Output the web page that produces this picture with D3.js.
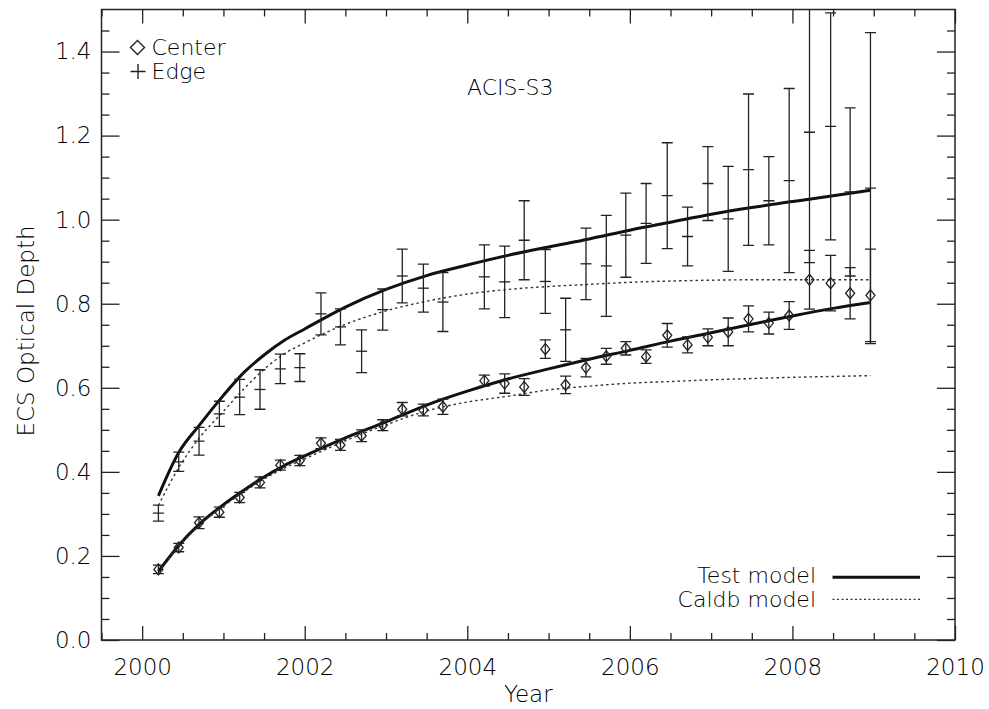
<!DOCTYPE html>
<html>
<head>
<meta charset="utf-8">
<script src="https://cdn.jsdelivr.net/npm/d3@7"></script>
<style>
body { margin: 0; background: #fff; }
text { font-family: "DejaVu Sans", sans-serif; font-weight: 200; fill: #000; }
</style>
</head>
<body>
<div id="chart"></div>
<script>

// observation times (years)
var years = [2000.20, 2000.45, 2000.70, 2000.95, 2001.20, 2001.45, 2001.70, 2001.94,
             2002.20, 2002.44, 2002.70, 2002.96, 2003.20, 2003.46, 2003.70,
             2004.21, 2004.46, 2004.70, 2004.96, 2005.21, 2005.46, 2005.71, 2005.95,
             2006.20, 2006.46, 2006.71, 2006.96, 2007.21, 2007.46, 2007.71, 2007.96,
             2008.21, 2008.47, 2008.71, 2008.96];

// center points (diamonds)
var centerVals = [0.168, 0.220, 0.279, 0.304, 0.339, 0.375, 0.416, 0.427,
                  0.468, 0.464, 0.486, 0.511, 0.549, 0.547, 0.555,
                  0.617, 0.610, 0.602, 0.692, 0.607, 0.648, 0.675, 0.694,
                  0.674, 0.725, 0.702, 0.720, 0.733, 0.764, 0.754, 0.772,
                  0.857, 0.849, 0.825, 0.820];
var centerErr = [0.010, 0.010, 0.014, 0.012, 0.012, 0.013, 0.012, 0.012,
                 0.013, 0.013, 0.014, 0.013, 0.016, 0.014, 0.018,
                 0.013, 0.023, 0.020, 0.022, 0.021, 0.022, 0.019, 0.016,
                 0.016, 0.028, 0.019, 0.020, 0.033, 0.031, 0.026, 0.033,
                 0.070, 0.066, 0.061, 0.110];

// edge points (plus signs)
var edgeVals = [0.302, 0.424, 0.473, 0.538, 0.578, 0.596, 0.645, 0.648,
                0.776, 0.745, 0.687, 0.786, 0.866, 0.837, 0.804,
                0.864, 0.852, 0.951, 0.853, 0.738, 0.895, 0.890, 0.963,
                0.991, 1.057, 0.960, 1.086, 1.002, 1.119, 1.045, 1.093,
                1.208, 1.222, 1.066, 1.075];
var edgeErr = [0.019, 0.023, 0.033, 0.030, 0.042, 0.047, 0.035, 0.033,
               0.050, 0.043, 0.051, 0.049, 0.064, 0.057, 0.070,
               0.076, 0.085, 0.094, 0.076, 0.075, 0.085, 0.120, 0.100,
               0.095, 0.126, 0.070, 0.088, 0.125, 0.180, 0.105, 0.219,
               0.310, 0.270, 0.200, 0.370];

// model curves
var modelYears = [2000.2, 2000.45, 2000.7, 2001.0, 2001.25, 2001.5, 2001.75, 2002.0,
                  2002.5, 2003.0, 2003.5, 2004.0, 2004.5, 2005.0, 2005.5, 2006.0,
                  2006.5, 2007.0, 2007.5, 2008.0, 2008.5, 2008.96];
var testEdge = [0.343, 0.446, 0.510, 0.582, 0.636, 0.678, 0.713, 0.740,
                0.792, 0.834, 0.867, 0.892, 0.915, 0.935, 0.954, 0.975,
                0.994, 1.013, 1.029, 1.043, 1.057, 1.070];
var caldbEdge = [0.320, 0.410, 0.480, 0.544, 0.597, 0.644, 0.681, 0.707,
                 0.751, 0.783, 0.806, 0.823, 0.834, 0.841, 0.846, 0.851,
                 0.854, 0.856, 0.857, 0.857, 0.857, 0.857];
var testCenter = [0.163, 0.225, 0.275, 0.322, 0.356, 0.388, 0.415, 0.438,
                  0.481, 0.519, 0.559, 0.592, 0.621, 0.645, 0.668, 0.689,
                  0.711, 0.731, 0.751, 0.771, 0.789, 0.803];
var caldbCenter = [0.160, 0.222, 0.272, 0.318, 0.352, 0.383, 0.409, 0.431,
                   0.474, 0.512, 0.545, 0.566, 0.580, 0.595, 0.604, 0.611,
                   0.615, 0.619, 0.622, 0.625, 0.627, 0.629];

// tick values
var xTicks = [2000, 2002, 2004, 2006, 2008, 2010];
var xMinor = [1999.5, 2000.5, 2001, 2001.5, 2002.5, 2003, 2003.5, 2004.5, 2005, 2005.5,
              2006.5, 2007, 2007.5, 2008.5, 2009, 2009.5];
var yTicks = [0.0, 0.2, 0.4, 0.6, 0.8, 1.0, 1.2, 1.4];
var yMinor = [0.05, 0.1, 0.15, 0.25, 0.3, 0.35, 0.45, 0.5, 0.55, 0.65, 0.7, 0.75,
              0.85, 0.9, 0.95, 1.05, 1.1, 1.15, 1.25, 1.3, 1.35, 1.45];

// set the dimensions and margins of the graph
var margin = {top: 9.5, right: 34, bottom: 69, left: 101.5},
    width = 989 - margin.left - margin.right,
    height = 709 - margin.top - margin.bottom;

var svg = d3.select("#chart")
    .append("svg")
        .attr("width", 989)
        .attr("height", 709)
    .append("g")
        .attr("transform", "translate(" + margin.left + "," + margin.top + ")");

var x = d3.scaleLinear().domain([1999.5, 2010]).range([0, width]);
var y = d3.scaleLinear().domain([0, 1.5]).range([height, 0]);

var ink = "#222";

// axes: major + minor ticks on all four sides, pointing inward
function styleAxis(g) {
    g.select(".domain").remove();
    g.selectAll("line").attr("stroke", ink).attr("stroke-width", 1.3);
    g.selectAll("text").attr("font-family", "DejaVu Sans").attr("font-size", 23).attr("fill", "#000");
}

svg.append("g")
    .attr("transform", "translate(0," + height + ")")
    .call(d3.axisBottom(x).tickValues(xTicks).tickFormat(d3.format("d"))
        .tickSizeInner(-14).tickSizeOuter(0).tickPadding(18.5))
    .call(styleAxis);
svg.append("g")
    .attr("transform", "translate(0," + height + ")")
    .call(d3.axisBottom(x).tickValues(xMinor).tickFormat("").tickSizeInner(-7).tickSizeOuter(0))
    .call(styleAxis);
svg.append("g")
    .call(d3.axisTop(x).tickValues(xTicks).tickFormat("").tickSizeInner(-14).tickSizeOuter(0))
    .call(styleAxis);
svg.append("g")
    .call(d3.axisTop(x).tickValues(xMinor).tickFormat("").tickSizeInner(-7).tickSizeOuter(0))
    .call(styleAxis);

svg.append("g")
    .call(d3.axisLeft(y).tickValues(yTicks).tickFormat(d3.format(".1f"))
        .tickSizeInner(-18).tickSizeOuter(0).tickPadding(10))
    .call(styleAxis);
svg.append("g")
    .call(d3.axisLeft(y).tickValues(yMinor).tickFormat("").tickSizeInner(-8).tickSizeOuter(0))
    .call(styleAxis);
svg.append("g")
    .attr("transform", "translate(" + width + ",0)")
    .call(d3.axisRight(y).tickValues(yTicks).tickFormat("").tickSizeInner(-18).tickSizeOuter(0))
    .call(styleAxis);
svg.append("g")
    .attr("transform", "translate(" + width + ",0)")
    .call(d3.axisRight(y).tickValues(yMinor).tickFormat("").tickSizeInner(-8).tickSizeOuter(0))
    .call(styleAxis);

// frame
svg.append("rect")
    .attr("width", width).attr("height", height)
    .attr("fill", "none").attr("stroke", ink).attr("stroke-width", 1.5);

svg.append("clipPath").attr("id", "clip")
    .append("rect").attr("width", width).attr("height", height);

var plot = svg.append("g").attr("clip-path", "url(#clip)");

// model curves
function curvePath(vals) {
    return d3.line()
        .x(function(d, i) { return x(modelYears[i]); })
        .y(function(d) { return y(d); })
        .curve(d3.curveMonotoneX)(vals);
}
[testEdge, testCenter].forEach(function(vals) {
    plot.append("path").attr("d", curvePath(vals))
        .attr("fill", "none").attr("stroke", "#111").attr("stroke-width", 3);
});
[caldbEdge, caldbCenter].forEach(function(vals) {
    plot.append("path").attr("d", curvePath(vals))
        .attr("fill", "none").attr("stroke", "#333").attr("stroke-width", 1.4)
        .attr("stroke-dasharray", "2.5,3");
});

// error bars
var cap = 5.5;
function errorBars(vals, errs) {
    var g = plot.append("g").attr("stroke", ink).attr("stroke-width", 1.3).attr("fill", "none");
    g.selectAll("path")
        .data(vals)
        .enter()
        .append("path")
        .attr("d", function(d, i) {
            var cx = x(years[i]), hi = y(d + errs[i]), lo = y(d - errs[i]);
            return "M" + cx + "," + hi + "V" + lo +
                   "M" + (cx - cap) + "," + hi + "H" + (cx + cap) +
                   "M" + (cx - cap) + "," + lo + "H" + (cx + cap);
        });
    return g;
}

// edge: error bars + plus markers
errorBars(edgeVals, edgeErr)
    .selectAll(".plus")
    .data(edgeVals)
    .enter()
    .append("path")
    .attr("d", function(d, i) {
        var cx = x(years[i]), cy = y(d);
        return "M" + (cx - cap) + "," + cy + "H" + (cx + cap);
    });

// center: error bars + open diamonds
errorBars(centerVals, centerErr)
    .selectAll(".dia")
    .data(centerVals)
    .enter()
    .append("path")
    .attr("fill", "none")
    .attr("d", "M0,-5.5L4.5,0L0,5.5L-4.5,0Z")
    .attr("transform", function(d, i) { return "translate(" + x(years[i]) + "," + y(d) + ")"; });

// legend top-left
var leg = svg.append("g").attr("stroke", ink).attr("stroke-width", 1.4).attr("fill", "none");
leg.append("path").attr("d", "M36,31L43,38L36,45L29,38Z");
leg.append("path").attr("d", "M29,62H44M36.5,54.5V69.5");
svg.append("text").attr("x", 50).attr("y", 45.5).attr("font-size", 22).text("Center");
svg.append("text").attr("x", 50).attr("y", 69).attr("font-size", 22).text("Edge");

// label
svg.append("text").attr("x", 365.5).attr("y", 85.5).attr("font-size", 22).text("ACIS-S3");

// legend bottom-right
svg.append("text").attr("x", 714.5).attr("y", 573.5).attr("text-anchor", "end")
    .attr("font-size", 22).text("Test model");
svg.append("text").attr("x", 714.5).attr("y", 597).attr("text-anchor", "end")
    .attr("font-size", 22).text("Caldb model");
svg.append("line").attr("x1", 731).attr("x2", 818.5).attr("y1", 567.8).attr("y2", 567.8)
    .attr("stroke", "#111").attr("stroke-width", 3);
svg.append("line").attr("x1", 731).attr("x2", 818.5).attr("y1", 589.8).attr("y2", 589.8)
    .attr("stroke", "#333").attr("stroke-width", 1.2).attr("stroke-dasharray", "2,2.5");

// axis titles
svg.append("text")
    .attr("x", width / 2).attr("y", 702 - margin.top)
    .attr("text-anchor", "middle").attr("font-size", 23).text("Year");
svg.append("text")
    .attr("transform", "translate(" + (34 - margin.left) + "," + (331 - margin.top) + ") rotate(-90)")
    .attr("text-anchor", "middle").attr("font-size", 23).text("ECS Optical Depth");

</script>
</body>
</html>
